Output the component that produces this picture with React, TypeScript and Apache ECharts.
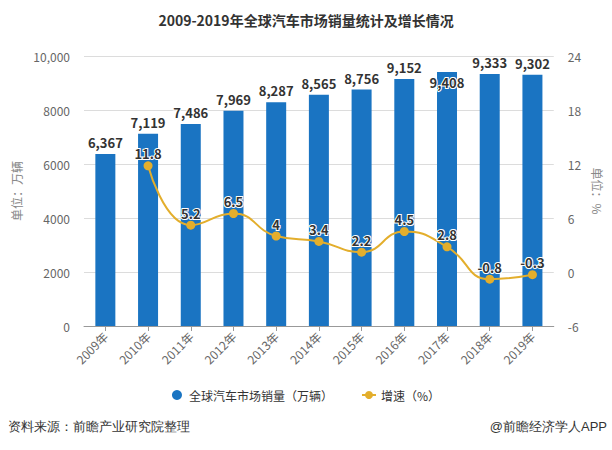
import React, { useEffect, useRef } from "react";
import * as echarts from "echarts";

const categories = ["2009年", "2010年", "2011年", "2012年", "2013年", "2014年", "2015年", "2016年", "2017年", "2018年", "2019年"];
const salesValues = [6367, 7119, 7486, 7969, 8287, 8565, 8756, 9152, 9408, 9333, 9302];
const growthValues: (number | null)[] = [null, 11.8, 5.2, 6.5, 4, 3.4, 2.2, 4.5, 2.8, -0.8, -0.3];
const insideLabelIndex = [8];

const FONT = "'Noto Sans CJK SC', 'Noto Sans', sans-serif";

export default function App() {
  const ref = useRef<HTMLDivElement>(null);
  useEffect(() => {
    if (!ref.current) return;
    const chart = echarts.init(ref.current, undefined, { renderer: "svg" });
    const fmt = (v: number) => v.toLocaleString("en-US");
    chart.setOption({
      animation: false,
      backgroundColor: "#ffffff",
      textStyle: { fontFamily: FONT },
      title: {
        text: "2009-2019年全球汽车市场销量统计及增长情况",
        left: "center",
        top: 8,
        textStyle: { fontSize: 14, fontWeight: "bold", color: "#333", fontFamily: FONT },
      },
      legend: {
        bottom: 44,
        left: "center",
        itemGap: 28,
        itemWidth: 14,
        itemHeight: 10,
        textStyle: { fontSize: 12, color: "#333", fontFamily: FONT },
        data: [
          { name: "全球汽车市场销量（万辆）", icon: "circle" },
          { name: "增速（%）" },
        ],
      },
      grid: { left: 84, right: 58, top: 56, bottom: 124 },
      xAxis: {
        type: "category",
        data: categories,
        axisLine: { lineStyle: { color: "#999" } },
        axisTick: { show: true, alignWithLabel: true, lineStyle: { color: "#999" } },
        axisLabel: { rotate: 45, color: "#666", fontSize: 12, margin: 8, fontFamily: FONT },
      },
      yAxis: [
        {
          type: "value",
          min: 0,
          max: 10000,
          interval: 2000,
          name: "单位：万辆",
          nameLocation: "middle",
          nameGap: 52,
          nameRotate: 90,
          nameTextStyle: { color: "#888", fontSize: 12, fontFamily: FONT },
          axisLine: { show: false },
          axisTick: { show: false },
          splitLine: { lineStyle: { color: "#dcdcdc" } },
          axisLabel: {
            color: "#666",
            fontSize: 12,
            margin: 14,
            formatter: (v: number) => (v >= 10000 ? fmt(v) : String(v)),
          },
        },
        {
          type: "value",
          min: -6,
          max: 24,
          interval: 6,
          name: "单位：%",
          nameLocation: "middle",
          nameGap: 30,
          nameRotate: -90,
          nameTextStyle: { color: "#888", fontSize: 12, fontFamily: FONT },
          axisLine: { show: false },
          axisTick: { show: false },
          splitLine: { show: false },
          axisLabel: { color: "#666", fontSize: 12, margin: 14 },
        },
      ],
      series: [
        {
          name: "全球汽车市场销量（万辆）",
          type: "bar",
          barWidth: 20,
          itemStyle: { color: "#1a74c2" },
          data: salesValues.map((v, i) => ({
            value: v,
            label: insideLabelIndex.includes(i) ? { position: "insideTop", distance: 4 } : undefined,
          })),
          label: {
            show: true,
            position: "top",
            distance: 5,
            color: "#333",
            fontSize: 13,
            fontWeight: "bold",
            textBorderColor: "#fff",
            textBorderWidth: 2,
            formatter: (p: any) => fmt(p.value),
          },
        },
        {
          name: "增速（%）",
          type: "line",
          yAxisIndex: 1,
          smooth: true,
          symbol: "circle",
          symbolSize: 9,
          lineStyle: { color: "#e3ae2c", width: 2 },
          itemStyle: { color: "#e3ae2c" },
          data: growthValues,
          label: {
            show: true,
            position: "top",
            distance: 1,
            color: "#333",
            fontSize: 13,
            fontWeight: "bold",
            textBorderColor: "#fff",
            textBorderWidth: 2,
          },
        },
      ],
      graphic: [
        {
          type: "text",
          left: 8,
          top: 420,
          style: { text: "资料来源：前瞻产业研究院整理", fontSize: 13, fill: "#333", font: `13px ${FONT}` },
        },
        {
          type: "text",
          right: 5,
          top: 420,
          style: { text: "@前瞻经济学人APP", fontSize: 13, fill: "#333", font: `13px ${FONT}` },
        },
      ],
    });
    return () => chart.dispose();
  }, []);
  return <div ref={ref} style={{ width: 612, height: 450, position: "absolute", left: 0, top: 0 }} />;
}
